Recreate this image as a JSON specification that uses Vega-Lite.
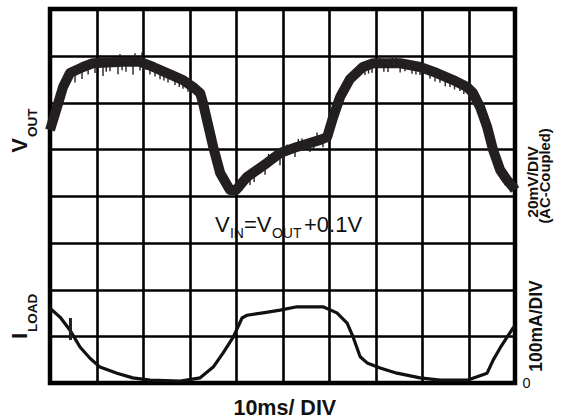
{
  "$schema": "https://vega.github.io/schema/vega-lite/v6.json",
  "autosize": {"type": "none"},
  "width": 465,
  "height": 374,
  "padding": {"left": 50, "top": 9, "right": 57, "bottom": 36},
  "background": "#ffffff",
  "config": {
    "view": {"stroke": "#000000", "strokeWidth": 4.5},
    "axis": {
      "grid": true, "gridColor": "#000000", "gridOpacity": 1, "gridWidth": 2.6,
      "labels": false, "ticks": false, "domain": false, "title": null
    },
    "text": {"font": "Liberation Sans", "color": "#111111"}
  },
  "layer": [
    {
      "data": {"values": [
        {"t": 0, "val": 5.41}, {"t": 0.15, "val": 5.9}, {"t": 0.28, "val": 6.33},
        {"t": 0.43, "val": 6.63}, {"t": 0.71, "val": 6.76}, {"t": 0.92, "val": 6.84},
        {"t": 1.57, "val": 6.87}, {"t": 1.94, "val": 6.87}, {"t": 2.22, "val": 6.76},
        {"t": 2.52, "val": 6.63}, {"t": 2.86, "val": 6.48}, {"t": 3.08, "val": 6.33},
        {"t": 3.23, "val": 6.2}, {"t": 3.29, "val": 5.99}, {"t": 3.51, "val": 5.05},
        {"t": 3.66, "val": 4.49}, {"t": 3.87, "val": 4.13}, {"t": 4.0, "val": 4.13},
        {"t": 4.24, "val": 4.41}, {"t": 4.67, "val": 4.71}, {"t": 4.95, "val": 4.92},
        {"t": 5.31, "val": 5.05}, {"t": 5.81, "val": 5.2}, {"t": 5.96, "val": 5.26},
        {"t": 6.09, "val": 5.69}, {"t": 6.24, "val": 6.12}, {"t": 6.45, "val": 6.5},
        {"t": 6.73, "val": 6.76}, {"t": 6.95, "val": 6.84}, {"t": 7.53, "val": 6.84},
        {"t": 7.96, "val": 6.76}, {"t": 8.32, "val": 6.63}, {"t": 8.67, "val": 6.48},
        {"t": 8.97, "val": 6.33}, {"t": 9.1, "val": 6.2}, {"t": 9.25, "val": 5.9},
        {"t": 9.4, "val": 5.48}, {"t": 9.53, "val": 4.98}, {"t": 9.68, "val": 4.56},
        {"t": 9.83, "val": 4.34}, {"t": 9.96, "val": 4.19}, {"t": 10, "val": 4.13}
      ]},
      "mark": {"type": "line", "color": "#231f20", "strokeWidth": 10, "strokeJoin": "round"},
      "encoding": {
        "x": {"field": "t", "type": "quantitative",
              "scale": {"domain": [0, 10], "nice": false, "zero": false},
              "axis": {"values": [1, 2, 3, 4, 5, 6, 7, 8, 9]}},
        "y": {"field": "val", "type": "quantitative",
              "scale": {"domain": [0, 8], "nice": false, "zero": false},
              "axis": {"values": [1, 2, 3, 4, 5, 6, 7]}}
      }
    },
    {
      "data": {"values": [
        {"t": 0.538, "val": 6.652, "val2": 6.428}, {"t": 0.688, "val": 6.695, "val2": 6.503},
        {"t": 0.82, "val": 6.8, "val2": 6.6},
        {"t": 0.968, "val": 6.824, "val2": 6.631}, {"t": 1.14, "val": 6.824, "val2": 6.567},
        {"t": 1.21, "val": 6.85, "val2": 6.66},
        {"t": 1.29, "val": 6.845, "val2": 6.669}, {"t": 1.462, "val": 6.845, "val2": 6.604},
        {"t": 1.55, "val": 6.87, "val2": 6.69},
        {"t": 1.634, "val": 6.866, "val2": 6.658}, {"t": 1.785, "val": 6.866, "val2": 6.594},
        {"t": 1.935, "val": 6.845, "val2": 6.685}, {"t": 2.065, "val": 6.845, "val2": 6.7},
        {"t": 2.15, "val": 6.79, "val2": 6.6},
        {"t": 2.258, "val": 6.781, "val2": 6.556}, {"t": 2.366, "val": 6.738, "val2": 6.497},
        {"t": 2.45, "val": 6.66, "val2": 6.47},
        {"t": 2.538, "val": 6.652, "val2": 6.428}, {"t": 2.688, "val": 6.567, "val2": 6.374},
        {"t": 2.78, "val": 6.52, "val2": 6.33},
        {"t": 2.86, "val": 6.503, "val2": 6.294}, {"t": 2.968, "val": 6.439, "val2": 6.23},
        {"t": 1.075, "val": 6.866, "val2": 7.011}, {"t": 1.505, "val": 6.909, "val2": 7.037},
        {"t": 1.828, "val": 6.909, "val2": 7.054}, {"t": 1.978, "val": 6.909, "val2": 7.07},
        {"t": 3.828, "val": 4.299, "val2": 4.075}, {"t": 4.0, "val": 4.278, "val2": 4.054},
        {"t": 4.129, "val": 4.342, "val2": 4.118},
        {"t": 4.301, "val": 4.428, "val2": 4.235}, {"t": 4.39, "val": 4.47, "val2": 4.3},
        {"t": 4.473, "val": 4.513, "val2": 4.674},
        {"t": 4.624, "val": 4.663, "val2": 4.455}, {"t": 4.7, "val": 4.73, "val2": 4.9},
        {"t": 4.774, "val": 4.727, "val2": 4.888},
        {"t": 4.946, "val": 4.877, "val2": 4.66}, {"t": 5.02, "val": 4.94, "val2": 4.76},
        {"t": 5.097, "val": 4.941, "val2": 5.102},
        {"t": 5.269, "val": 5.027, "val2": 4.834}, {"t": 5.34, "val": 5.06, "val2": 5.22},
        {"t": 5.419, "val": 5.07, "val2": 5.23},
        {"t": 5.591, "val": 5.134, "val2": 4.941}, {"t": 5.67, "val": 5.16, "val2": 5.0},
        {"t": 5.742, "val": 5.198, "val2": 5.359},
        {"t": 5.871, "val": 5.219, "val2": 5.043},
        {"t": 6.774, "val": 6.781, "val2": 6.588}, {"t": 6.85, "val": 6.8, "val2": 6.62},
        {"t": 6.925, "val": 6.845, "val2": 6.637},
        {"t": 7.097, "val": 6.866, "val2": 6.994}, {"t": 7.18, "val": 6.84, "val2": 6.66},
        {"t": 7.269, "val": 6.845, "val2": 6.652}, {"t": 7.36, "val": 6.84, "val2": 7.0},
        {"t": 7.441, "val": 6.866, "val2": 7.011}, {"t": 7.53, "val": 6.84, "val2": 6.64},
        {"t": 7.634, "val": 6.845, "val2": 6.669},
        {"t": 7.785, "val": 6.824, "val2": 6.615}, {"t": 7.87, "val": 6.78, "val2": 6.6},
        {"t": 7.957, "val": 6.781, "val2": 6.588},
        {"t": 8.172, "val": 6.717, "val2": 6.509}, {"t": 8.28, "val": 6.64, "val2": 6.45},
        {"t": 8.387, "val": 6.631, "val2": 6.423}, {"t": 8.5, "val": 6.55, "val2": 6.35},
        {"t": 8.602, "val": 6.524, "val2": 6.331}, {"t": 8.7, "val": 6.47, "val2": 6.28},
        {"t": 8.817, "val": 6.439, "val2": 6.246}, {"t": 8.9, "val": 6.37, "val2": 6.18},
        {"t": 8.989, "val": 6.374, "val2": 6.182}, {"t": 9.14, "val": 6.225, "val2": 6.032},
        {"t": 9.57, "val": 4.877, "val2": 4.717}, {"t": 9.785, "val": 4.406, "val2": 4.23},
        {"t": 9.935, "val": 4.235, "val2": 4.107}
      ]},
      "mark": {"type": "rule", "color": "#231f20", "strokeWidth": 1.4},
      "encoding": {
        "x": {"field": "t", "type": "quantitative"},
        "y": {"field": "val", "type": "quantitative"},
        "y2": {"field": "val2"}
      }
    },
    {
      "data": {"values": [
        {"t": 0, "val": 1.6}, {"t": 0.215, "val": 1.41}, {"t": 0.43, "val": 1.13},
        {"t": 0.645, "val": 0.77}, {"t": 0.86, "val": 0.53}, {"t": 1.075, "val": 0.34},
        {"t": 1.44, "val": 0.21}, {"t": 1.78, "val": 0.11}, {"t": 2.15, "val": 0.06},
        {"t": 2.8, "val": 0.04}, {"t": 3.23, "val": 0.11}, {"t": 3.51, "val": 0.34},
        {"t": 3.72, "val": 0.64}, {"t": 3.94, "val": 0.98}, {"t": 4.13, "val": 1.39},
        {"t": 4.24, "val": 1.45}, {"t": 4.58, "val": 1.5}, {"t": 4.95, "val": 1.56},
        {"t": 5.31, "val": 1.63}, {"t": 5.87, "val": 1.63}, {"t": 6.17, "val": 1.5},
        {"t": 6.39, "val": 1.28}, {"t": 6.52, "val": 0.98}, {"t": 6.67, "val": 0.56},
        {"t": 6.82, "val": 0.43}, {"t": 7.1, "val": 0.32}, {"t": 7.46, "val": 0.21},
        {"t": 7.96, "val": 0.11}, {"t": 8.39, "val": 0.06}, {"t": 8.97, "val": 0.06},
        {"t": 9.4, "val": 0.21}, {"t": 9.53, "val": 0.49}, {"t": 9.68, "val": 0.75},
        {"t": 9.83, "val": 0.98}, {"t": 9.96, "val": 1.18}, {"t": 10, "val": 1.22}
      ]},
      "mark": {"type": "line", "color": "#111111", "strokeWidth": 3.2, "strokeJoin": "round"},
      "encoding": {
        "x": {"field": "t", "type": "quantitative"},
        "y": {"field": "val", "type": "quantitative"}
      }
    },
    {
      "data": {"values": [{"t": 0.44, "val": 0.92, "val2": 1.39}]},
      "mark": {"type": "rule", "color": "#231f20", "strokeWidth": 3},
      "encoding": {
        "x": {"field": "t", "type": "quantitative"},
        "y": {"field": "val", "type": "quantitative"},
        "y2": {"field": "val2"}
      }
    },
    {
      "data": {"values": [{"label": "V", "t": -0.495, "val": 5.24}, {"label": "I", "t": -0.495, "val": 1.07}]},
      "mark": {"type": "text", "angle": 270, "align": "right", "baseline": "alphabetic", "fontSize": 22, "fontWeight": "bold"},
      "encoding": {
        "x": {"field": "t", "type": "quantitative"},
        "y": {"field": "val", "type": "quantitative"},
        "text": {"field": "label"}
      }
    },
    {
      "data": {"values": [{"label": "OUT", "t": -0.28, "val": 5.26}, {"label": "LOAD", "t": -0.28, "val": 1.09}]},
      "mark": {"type": "text", "angle": 270, "align": "left", "baseline": "alphabetic", "fontSize": 13.5, "fontWeight": "bold"},
      "encoding": {
        "x": {"field": "t", "type": "quantitative"},
        "y": {"field": "val", "type": "quantitative"},
        "text": {"field": "label"}
      }
    },
    {
      "data": {"values": [{"label": "20mV/DIV", "t": 10.495, "val": 4.3}]},
      "mark": {"type": "text", "angle": 270, "align": "center", "baseline": "alphabetic", "fontSize": 15.5, "fontWeight": "bold"},
      "encoding": {
        "x": {"field": "t", "type": "quantitative"},
        "y": {"field": "val", "type": "quantitative"},
        "text": {"field": "label"}
      }
    },
    {
      "data": {"values": [{"label": "(AC-Coupled)", "t": 10.75, "val": 4.43}]},
      "mark": {"type": "text", "angle": 270, "align": "center", "baseline": "alphabetic", "fontSize": 14.8, "fontWeight": "bold"},
      "encoding": {
        "x": {"field": "t", "type": "quantitative"},
        "y": {"field": "val", "type": "quantitative"},
        "text": {"field": "label"}
      }
    },
    {
      "data": {"values": [{"label": "100mA/DIV", "t": 10.58, "val": 1.22}]},
      "mark": {"type": "text", "angle": 270, "align": "center", "baseline": "alphabetic", "fontSize": 17.5, "fontWeight": "bold"},
      "encoding": {
        "x": {"field": "t", "type": "quantitative"},
        "y": {"field": "val", "type": "quantitative"},
        "text": {"field": "label"}
      }
    },
    {
      "data": {"values": [{"label": "0", "t": 10.25, "val": -0.02}]},
      "mark": {"type": "text", "align": "center", "baseline": "middle", "fontSize": 14.5},
      "encoding": {
        "x": {"field": "t", "type": "quantitative"},
        "y": {"field": "val", "type": "quantitative"},
        "text": {"field": "label"}
      }
    },
    {
      "data": {"values": [{"label": "10ms/ DIV", "t": 5.05, "val": -0.684}]},
      "mark": {"type": "text", "align": "center", "baseline": "alphabetic", "fontSize": 21.5, "fontWeight": "bold"},
      "encoding": {
        "x": {"field": "t", "type": "quantitative"},
        "y": {"field": "val", "type": "quantitative"},
        "text": {"field": "label"}
      }
    },
    {
      "data": {"values": [{"label": "V", "t": 3.548, "val": 3.23}]},
      "mark": {"type": "text", "align": "left", "baseline": "alphabetic", "fontSize": 22},
      "encoding": {
        "x": {"field": "t", "type": "quantitative"},
        "y": {"field": "val", "type": "quantitative"},
        "text": {"field": "label"}
      }
    },
    {
      "data": {"values": [{"label": "IN", "t": 3.548, "val": 3.23}]},
      "mark": {"type": "text", "align": "left", "baseline": "alphabetic", "fontSize": 14, "dx": 15, "dy": 6},
      "encoding": {
        "x": {"field": "t", "type": "quantitative"},
        "y": {"field": "val", "type": "quantitative"},
        "text": {"field": "label"}
      }
    },
    {
      "data": {"values": [{"label": "=V", "t": 3.548, "val": 3.23}]},
      "mark": {"type": "text", "align": "left", "baseline": "alphabetic", "fontSize": 22, "dx": 29},
      "encoding": {
        "x": {"field": "t", "type": "quantitative"},
        "y": {"field": "val", "type": "quantitative"},
        "text": {"field": "label"}
      }
    },
    {
      "data": {"values": [{"label": "OUT", "t": 3.548, "val": 3.23}]},
      "mark": {"type": "text", "align": "left", "baseline": "alphabetic", "fontSize": 14, "dx": 57, "dy": 6},
      "encoding": {
        "x": {"field": "t", "type": "quantitative"},
        "y": {"field": "val", "type": "quantitative"},
        "text": {"field": "label"}
      }
    },
    {
      "data": {"values": [{"label": "+0.1V", "t": 3.548, "val": 3.23}]},
      "mark": {"type": "text", "align": "left", "baseline": "alphabetic", "fontSize": 22, "dx": 89},
      "encoding": {
        "x": {"field": "t", "type": "quantitative"},
        "y": {"field": "val", "type": "quantitative"},
        "text": {"field": "label"}
      }
    }
  ]
}
